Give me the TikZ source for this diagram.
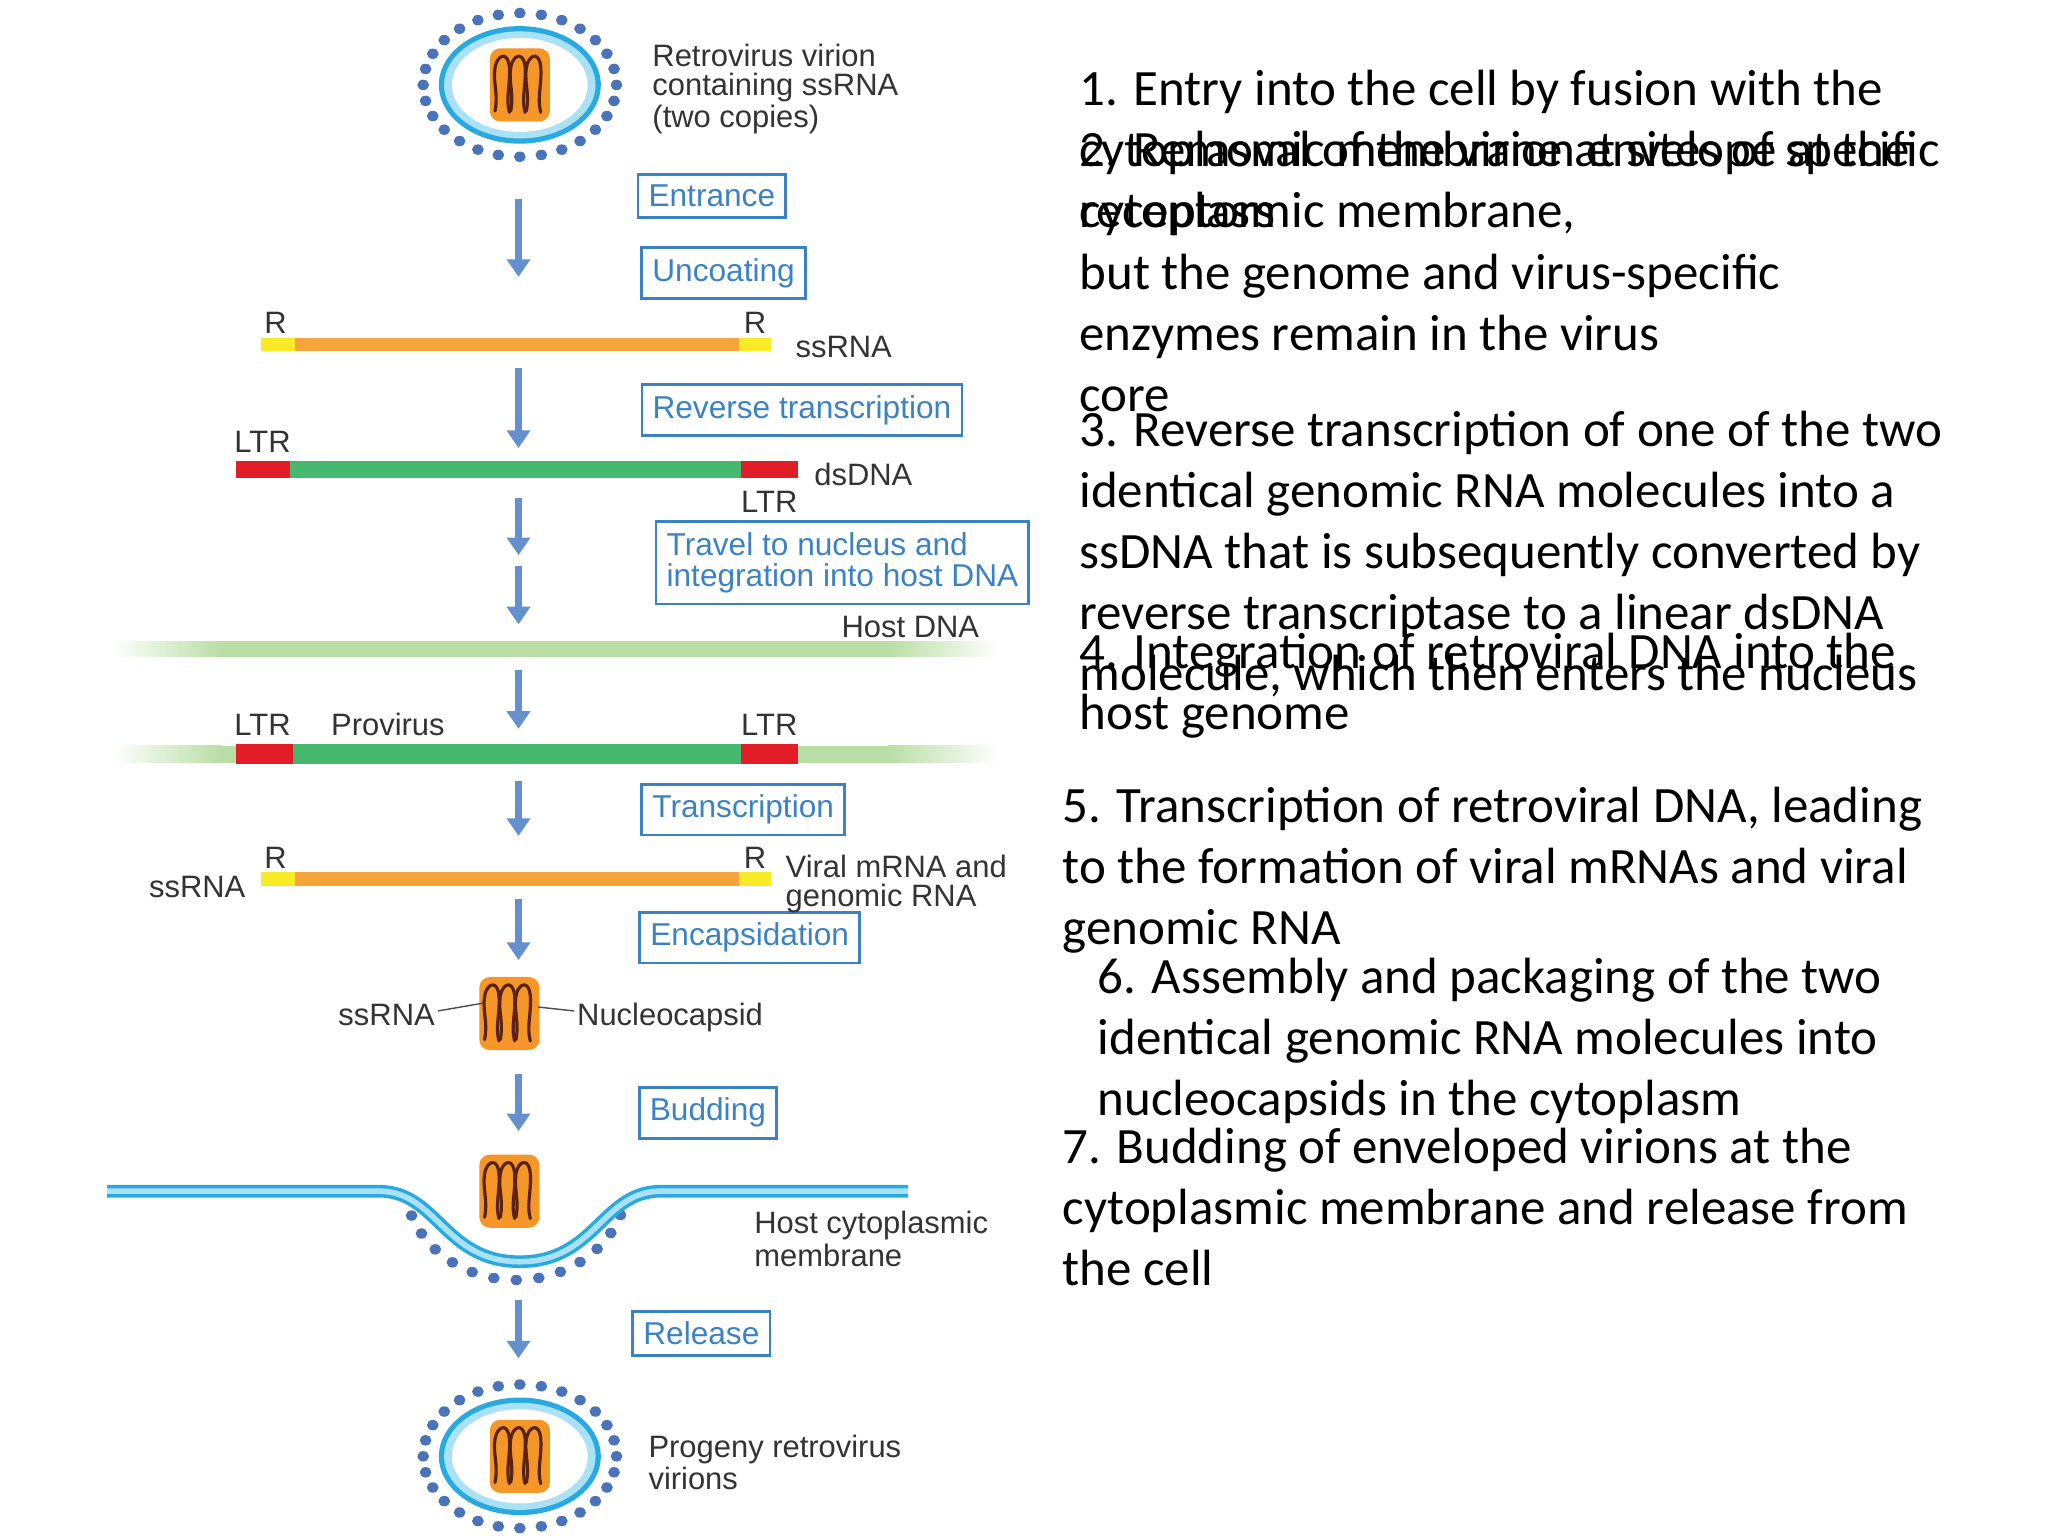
\documentclass[tikz,border=0pt]{standalone}
\usepackage{fontspec}
\setmainfont{Liberation Sans}
\newfontfamily\calibri{Carlito}
\usetikzlibrary{arrows.meta}
\definecolor{box_blue}{RGB}{60,130,195}
\definecolor{arrow_blue}{RGB}{100,145,205}
\definecolor{rna_orange}{RGB}{245,165,60}
\definecolor{rna_yellow}{RGB}{250,235,40}
\definecolor{dna_red}{RGB}{225,30,40}
\definecolor{dna_green}{RGB}{70,185,110}
\definecolor{host_green}{RGB}{185,222,165}
\definecolor{mem_light}{RGB}{170,225,245}
\definecolor{mem_edge}{RGB}{40,170,225}
\definecolor{dot_blue}{RGB}{75,115,185}
\definecolor{core_orange}{RGB}{245,150,40}
\definecolor{coil_brown}{RGB}{90,35,15}

% core of the virus with its two RNA coils
\newcommand{\capsid}[2]{%
  \fill[core_orange,rounded corners=3] (#1-23,#2-28) rectangle (#1+23,#2+28);
  \foreach \dx in {-12,0,12}
    \draw[coil_brown,line width=0.9pt,line cap=round]
      (#1+\dx-7,#2+20) .. controls (#1+\dx-4,#2+5) and (#1+\dx-10,#2-5) .. (#1+\dx-6,#2-17)
      .. controls (#1+\dx-3,#2-24) and (#1+\dx+3,#2-24) .. (#1+\dx+4,#2-14)
      .. controls (#1+\dx+5,#2) and (#1+\dx+1,#2+10) .. (#1+\dx+4,#2+21);
}
% complete virion: envelope ring, spikes, core
\newcommand{\virion}[2]{%
  \foreach \a in {0,12.857,...,359}
    \fill[dot_blue] (#1+74*cos \a,#2+55*sin \a) ellipse (4.5 and 4);
  \fill[mem_edge] (#1,#2) ellipse (62 and 45);
  \fill[mem_light] (#1,#2) ellipse (58 and 41);
  \fill[white] (#1,#2) ellipse (52 and 36);
  \capsid{#1}{#2}
}

\begin{document}
\begin{tikzpicture}[x=0.01306cm,y=-0.01306cm]
  \tikzstyle{step_box}=[draw=box_blue,thick,text=box_blue,font=\fontsize{9}{9}\selectfont,inner sep=3pt,align=left]
  \tikzstyle{lbl}=[font=\fontsize{8.8}{8.2}\selectfont,text=black!80,align=left,inner sep=0pt]
  \tikzstyle{flow}=[arrow_blue,line width=2.2pt,-{Triangle[width=6.5pt,length=5pt]}]
  \tikzstyle{para}=[anchor=north west,font=\calibri\fontsize{14.5}{17.4}\selectfont,align=left,inner sep=0pt]

  \useasboundingbox (0,0) rectangle (1568,1176);

  % virions
  \virion{398}{65}
  \virion{398}{1115}
  \node[lbl,anchor=north west] (top_lbl) at (499,33) {Retrovirus virion\\containing ssRNA\\(two copies)};
  \node[lbl,anchor=north west] (prog_lbl) at (496,1098) {Progeny retrovirus\\virions};

  % step labels
  \node[step_box] (entr) at (545,150) {Entrance};
  \node[step_box] (unc)  at (554,209) {Uncoating};
  \node[step_box] (rt)   at (614,314) {Reverse transcription};
  \node[step_box] (trav) at (645,431) {Travel to nucleus and\\integration into host DNA};
  \node[step_box] (tr)   at (569,620) {Transcription};
  \node[step_box] (enc)  at (574,718) {Encapsidation};
  \node[step_box] (bud)  at (542,852) {Budding};
  \node[step_box] (rel)  at (537,1021) {Release};

  % flow arrows
  \foreach \ya/\yb in {152/212,282/343,381/425,433/478,513/558,598/640,688/735,822/866,995/1040}
    \draw[flow] (397,\ya) -- (397,\yb);

  % ssRNA
  \fill[rna_orange] (226,259) rectangle (566,269);
  \fill[rna_yellow] (200,259) rectangle (226,269);
  \fill[rna_yellow] (566,259) rectangle (590,269);
  \node[lbl] (r1) at (211,247) {R};
  \node[lbl] (r2) at (578,247) {R};
  \node[lbl] (ss1) at (646,266) {ssRNA};

  % dsDNA
  \fill[dna_green] (222,353) rectangle (567,366);
  \fill[dna_red] (181,353) rectangle (222,366);
  \fill[dna_red] (567,353) rectangle (611,366);
  \node[lbl] (ltr1) at (201,338) {LTR};
  \node[lbl] (ltr2) at (589,384) {LTR};
  \node[lbl] (ds) at (661,363) {dsDNA};

  % host DNA
  \shade[left color=white,right color=host_green] (85,491) rectangle (170,503);
  \fill[host_green] (170,491) rectangle (680,503);
  \shade[left color=host_green,right color=white] (680,491) rectangle (765,503);
  \node[lbl] (host) at (697,480) {Host DNA};

  % provirus
  \shade[left color=white,right color=host_green] (85,571) rectangle (170,584);
  \fill[host_green] (170,571) rectangle (680,584);
  \shade[left color=host_green,right color=white] (680,571) rectangle (765,584);
  \fill[dna_green] (224,570) rectangle (567,585);
  \fill[dna_red] (181,570) rectangle (224,585);
  \fill[dna_red] (567,570) rectangle (611,585);
  \node[lbl] (ltr3) at (201,555) {LTR};
  \node[lbl] (prov) at (297,555) {Provirus};
  \node[lbl] (ltr4) at (589,555) {LTR};

  % viral RNA
  \fill[rna_orange] (226,668) rectangle (566,678);
  \fill[rna_yellow] (200,668) rectangle (226,678);
  \fill[rna_yellow] (566,668) rectangle (590,678);
  \node[lbl] (r3) at (211,657) {R};
  \node[lbl] (r4) at (578,657) {R};
  \node[lbl] (ss2) at (151,679) {ssRNA};
  \node[lbl,anchor=north west] (vmrna) at (601,654) {Viral mRNA and\\genomic RNA};

  % nucleocapsid
  \capsid{390}{776}
  \node[lbl] (ss3) at (296,777) {ssRNA};
  \node[lbl] (ncap) at (513,779) {Nucleocapsid};
  \draw[black!70,thin] (ss3.east) ++(2,-3) coordinate (c1) -- (370,768);
  \draw[black!70,thin] (ncap.west) ++(-2,-5) coordinate (c2) -- (412,771);

  % budding through the membrane
  \foreach \a in {200,211.7,...,341}
    \fill[dot_blue] (395+85*cos \a,905-75*sin \a) ellipse (4.5 and 4);
  \draw[mem_edge,line width=3.6pt]
    (82,912) -- (290,912) .. controls (335,912) and (340,966) .. (398,966)
    .. controls (456,966) and (461,912) .. (506,912) -- (695,912);
  \draw[mem_light,line width=1.6pt]
    (82,912) -- (290,912) .. controls (335,912) and (340,966) .. (398,966)
    .. controls (456,966) and (461,912) .. (506,912) -- (695,912);
  \capsid{390}{912}
  \node[lbl,anchor=north west] (memb) at (577,927) {Host cytoplasmic\\membrane};

  % explanations
  \node[para] (p1) at (826,53)  {1. Entry into the cell by fusion with the\\cytoplasmic membrane at sites of specific\\receptors};
  \node[para] (p2) at (826,100) {2. Removal of the virion envelope at the\\cytoplasmic membrane,\\but the genome and virus-specific\\enzymes remain in the virus\\core};
  \node[para] (p3) at (826,314) {3. Reverse transcription of one of the two\\identical genomic RNA molecules into a\\ssDNA that is subsequently converted by\\reverse transcriptase to a linear dsDNA\\molecule, which then enters the nucleus};
  \node[para] (p4) at (826,484) {4. Integration of retroviral DNA into the\\host genome};
  \node[para] (p5) at (813,602) {5. Transcription of retroviral DNA, leading\\to the formation of viral mRNAs and viral\\genomic RNA};
  \node[para] (p6) at (840,733) {6. Assembly and packaging of the two\\identical genomic RNA molecules into\\nucleocapsids in the cytoplasm};
  \node[para] (p7) at (813,863) {7. Budding of enveloped virions at the\\cytoplasmic membrane and release from\\the cell};
\end{tikzpicture}
\end{document}
